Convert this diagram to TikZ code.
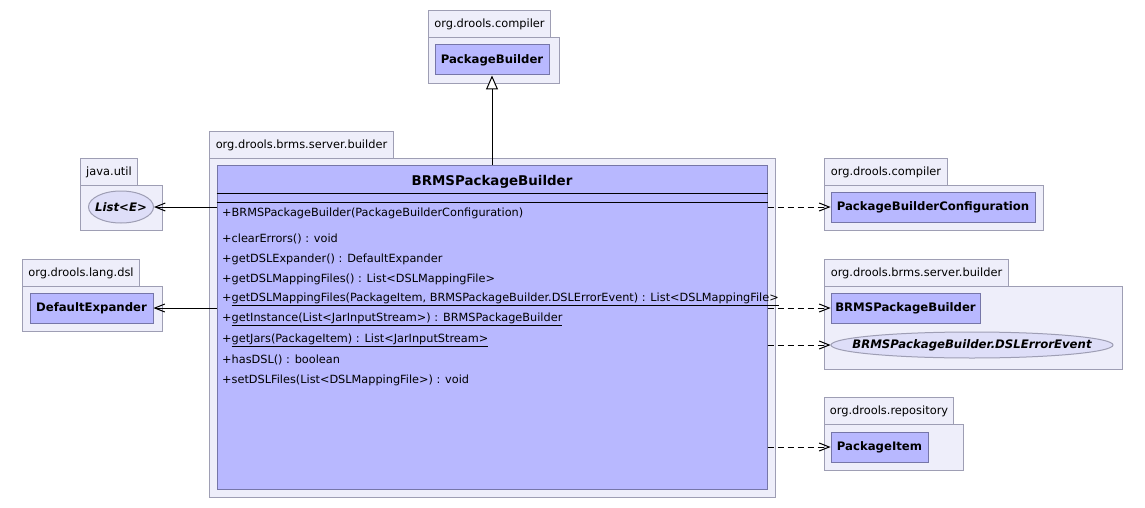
\documentclass[tikz,border=0pt]{standalone}
\usepackage{fontspec}
\setmainfont{DejaVu Sans}
\usetikzlibrary{arrows.meta,shapes.geometric}

\definecolor{pkgfill}{RGB}{238,238,250}
\definecolor{pkgline}{RGB}{158,158,180}
\definecolor{clsfill}{RGB}{184,184,255}
\definecolor{clsline}{RGB}{118,118,168}
\definecolor{ifcfill}{RGB}{222,222,248}

\begin{document}
\begin{tikzpicture}[
    x=1pt, y=-1pt,
    pkgtab/.style={rectangle, draw=pkgline, fill=pkgfill, line width=1pt, anchor=north west, inner sep=0pt, minimum height=27pt, font=\fontsize{11.4}{13}\selectfont},
    pkgbody/.style={rectangle, draw=pkgline, fill=pkgfill, line width=1pt, anchor=north west, inner sep=0pt},
    classbox/.style={rectangle, draw=clsline, fill=clsfill, line width=1pt, inner sep=0pt, minimum height=30pt, font=\fontsize{11.7}{13}\selectfont\bfseries},
    ifacebox/.style={ellipse, draw=pkgline, fill=ifcfill, line width=1pt, inner ysep=0pt, font=\fontsize{11.7}{13}\selectfont\bfseries\itshape},
    member/.style={anchor=west, inner sep=0pt, font=\fontsize{11.3}{13}\selectfont},
    dep/.style={line width=1pt, dash pattern=on 6pt off 4pt, -{Straight Barb[length=10pt, width=8pt]}},
    assoc/.style={line width=1pt, -{Straight Barb[length=10pt, width=8pt]}},
    gen/.style={line width=1pt, -{Triangle[fill=white, length=14pt, width=12pt]}}
]
\useasboundingbox[fill=white] (0,0) rectangle (1145,508);

% ==================== SUPERCLASS PACKAGE ====================
\node[pkgbody, minimum width=131pt, minimum height=46pt] (pkg_comp1) at (428,37) {};
\node[pkgtab, minimum width=122pt] (tab_comp1) at (428,10) {org.drools.compiler};
\node[classbox, minimum width=114pt] (pkgbuilder) at (492,60) {PackageBuilder};

% ==================== LEFT PACKAGES ====================
\node[pkgbody, minimum width=82pt, minimum height=45pt] (pkg_util) at (80,185) {};
\node[pkgtab, minimum width=57pt] (tab_util) at (80,158) {java.util};
\node[ifacebox, inner xsep=-3pt, minimum width=65pt, minimum height=32pt] (listE) at (121,207) {List<E>};

\node[pkgbody, minimum width=140pt, minimum height=45pt] (pkg_dsl) at (22,286) {};
\node[pkgtab, minimum width=117pt] (tab_dsl) at (22,259) {org.drools.lang.dsl};
\node[classbox, minimum width=123pt] (defexp) at (91.5,308) {DefaultExpander};

% ==================== MAIN PACKAGE ====================
\node[pkgbody, minimum width=566pt, minimum height=339pt] (pkg_main) at (209,158) {};
\node[pkgtab, minimum width=184pt] (tab_main) at (209,131) {org.drools.brms.server.builder};
\node[classbox, minimum width=550pt, minimum height=324pt] (brms) at (492,327) {};
\node[font=\fontsize{13.4}{15}\selectfont\bfseries] (brmsname) at (492,182) {BRMSPackageBuilder};
\draw[line width=1pt] ([yshift=-29pt]brms.north west) -- ([yshift=-29pt]brms.north east);
\draw[line width=1pt] ([yshift=-38pt]brms.north west) -- ([yshift=-38pt]brms.north east);

\node[member] (m_ctor) at (222,213) {+BRMSPackageBuilder(PackageBuilderConfiguration)};
\node[member] (m_clear) at (222,239) {+clearErrors() : void};
\node[member] (m_expander) at (222,259) {+getDSLExpander() : DefaultExpander};
\node[member] (m_files) at (222,279) {+getDSLMappingFiles() : List<DSLMappingFile>};
\node[member] (m_files2) at (222,299) {+\underline{getDSLMappingFiles(PackageItem, BRMSPackageBuilder.DSLErrorEvent) : List<DSLMappingFile>}};
\node[member] (m_instance) at (222,319) {+\underline{getInstance(List<JarInputStream>) : BRMSPackageBuilder}};
\node[member] (m_jars) at (222,340) {+\underline{getJars(PackageItem) : List<JarInputStream>}};
\node[member] (m_hasdsl) at (222,360) {+hasDSL() : boolean};
\node[member] (m_setfiles) at (222,380) {+setDSLFiles(List<DSLMappingFile>) : void};

% ==================== RIGHT PACKAGES ====================
\node[pkgbody, minimum width=219pt, minimum height=45pt] (pkg_comp2) at (824,185) {};
\node[pkgtab, minimum width=123pt] (tab_comp2) at (824,158) {org.drools.compiler};
\node[classbox, minimum width=204pt] (pbconfig) at (933,207) {PackageBuilderConfiguration};

\node[pkgbody, minimum width=298pt, minimum height=83pt] (pkg_server) at (824,286) {};
\node[pkgtab, minimum width=184pt] (tab_server) at (824,259) {org.drools.brms.server.builder};
\node[classbox, minimum width=149pt] (brmsref) at (905.5,308) {BRMSPackageBuilder};
\node[ifacebox, inner xsep=-20pt, minimum width=282pt, minimum height=26pt] (errevent) at (972,345) {BRMSPackageBuilder.DSLErrorEvent};

\node[pkgbody, minimum width=139pt, minimum height=46pt] (pkg_repo) at (824,424) {};
\node[pkgtab, minimum width=129pt] (tab_repo) at (824,397) {org.drools.repository};
\node[classbox, minimum width=97pt] (pkgitem) at (879.5,447) {PackageItem};

% ==================== RELATIONS ====================
\draw[gen] (brms.north) -- (pkgbuilder.south);
\draw[assoc] (brms.west |- listE.east) -- (listE.east);
\draw[assoc] (brms.west |- defexp.east) -- (defexp.east);
\draw[dep] (brms.east |- pbconfig.west) -- (pbconfig.west);
\draw[dep] (brms.east |- brmsref.west) -- (brmsref.west);
\draw[dep] (brms.east |- errevent.west) -- (errevent.west);
\draw[dep] (brms.east |- pkgitem.west) -- (pkgitem.west);

\end{tikzpicture}
\end{document}
